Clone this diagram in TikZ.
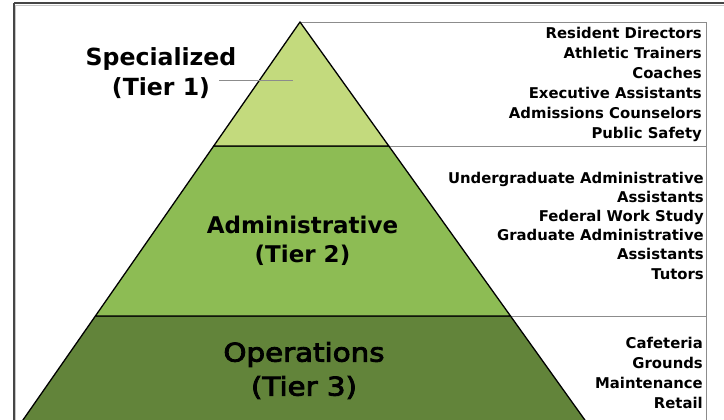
\documentclass[tikz,border=0pt]{standalone}
\usepackage{fontspec}
\setmainfont{DejaVu Sans}
\newfontfamily\opsfont[FakeStretch=1.14,FakeBold=3.5]{DejaVu Sans}
\definecolor{tierA}{RGB}{195,218,125}
\definecolor{tierB}{RGB}{141,188,84}
\definecolor{tierC}{RGB}{98,132,58}
\definecolor{rule}{RGB}{140,140,140}
\definecolor{frame}{RGB}{70,70,70}
\tikzset{
  tiertitle/.style={font=\bfseries\fontsize{23}{30}\selectfont, align=center, inner sep=0pt},
  roles/.style={font=\bfseries\fontsize{14.85}{19.9}\selectfont, align=right, inner sep=0pt, anchor=east},
  tierfill/.style={draw=black, line width=1.3pt, line join=round},
  guide/.style={draw=rule, line width=0.9pt},
}
\begin{document}
\begin{tikzpicture}[x=1pt,y=-1pt]
\useasboundingbox (0,0) rectangle (724,420);
\clip (0,0) rectangle (724,420);
\fill[white] (0,0) rectangle (724,420);
% frame
\draw[frame, line width=2pt] (14,3.5) -- (14,440) (14,3.5) -- (740,3.5);
\draw[rule!50, line width=0.8pt] (15.6,5.2) -- (15.6,440) (15.6,5.2) -- (740,5.2);
% geometry
\coordinate (apex) at (300,22);
\coordinate (l1) at (213.7,146);
\coordinate (r1) at (388.8,146);
\coordinate (l2) at (95.4,316);
\coordinate (r2) at (510.5,316);
\coordinate (l3) at (16,430);
\coordinate (r3) at (592,430);
\coordinate (e0) at (706,22);
\coordinate (e1) at (706,146);
\coordinate (e2) at (706,316);
\coordinate (e3) at (706,440);
% guide lines on the right
\draw[guide] (apex) -- (e0) -- (e3);
\draw[guide] (r1) -- (e1);
\draw[guide] (r2) -- (e2);
% tiers
\draw[tierfill, fill=tierC] (l2) -- (r2) -- (r3) -- (l3) -- cycle;
\draw[tierfill, fill=tierB] (l1) -- (r1) -- (r2) -- (l2) -- cycle;
\draw[tierfill, fill=tierA] (apex) -- (r1) -- (l1) -- cycle;
% titles
\node[tiertitle, font=\bfseries\fontsize{23.6}{30}\selectfont] (t1) at (161,73.5) {Specialized\\(Tier 1)};
\node[tiertitle, font=\bfseries\fontsize{23}{29.5}\selectfont] (t2) at (302.5,241) {Administrative\\(Tier 2)};
\node[tiertitle, font=\opsfont\fontsize{25.7}{34}\selectfont] (t3) at (304,370.5) {Operations\\(Tier 3)};
\coordinate (lead0) at (219,80);
\coordinate (lead1) at (293,80);
\draw[rule, line width=0.7pt] (lead0) -- (lead1);
% role lists
\node[roles] (list1) at (702,84.5) {Resident Directors\\Athletic Trainers\\Coaches\\Executive Assistants\\Admissions Counselors\\Public Safety};
\node[roles, font=\bfseries\fontsize{14.85}{19.2}\selectfont] (list2) at (704,225.5) {Undergraduate Administrative\\Assistants\\Federal Work Study\\Graduate Administrative\\Assistants\\Tutors};
\node[roles, font=\bfseries\fontsize{14.85}{19.7}\selectfont] (list3) at (703,373) {Cafeteria\\Grounds\\Maintenance\\Retail};
\end{tikzpicture}
\end{document}
